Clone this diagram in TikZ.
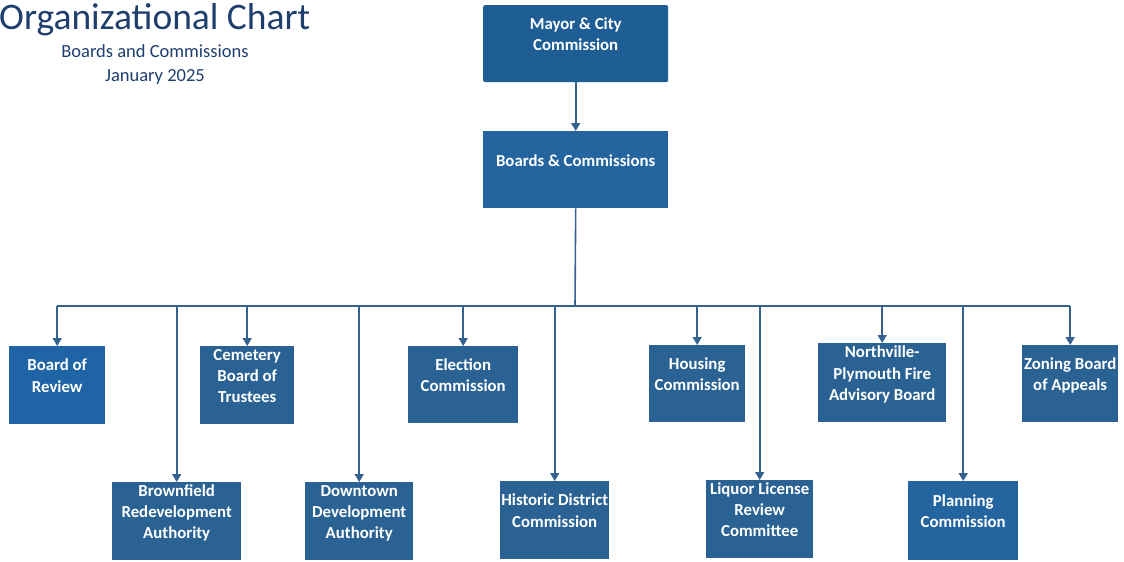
\documentclass[tikz,border=0pt]{standalone}
\usepackage{fontspec}
\setmainfont{Carlito}
\usetikzlibrary{arrows.meta}
\definecolor{boxblue}{HTML}{2A6393}
\definecolor{topblue}{HTML}{1F5E95}
\definecolor{midblue}{HTML}{2465A0}
\definecolor{brightblue}{HTML}{1F65A5}
\definecolor{linkblue}{HTML}{35628F}
\definecolor{titleblue}{HTML}{1E3F6E}
% box label: centred column of lines, lifted a little above the box centre
\newcommand\boxlabel[1]{\raisebox{3.5pt}[0pt][0pt]{\begin{tabular}{@{}c@{}}#1\end{tabular}}}
\tikzset{
  unit/.style={fill=boxblue, draw=none, text=white, align=center,
    font=\fontsize{16.8}{21.3}\selectfont\bfseries, inner sep=0pt, anchor=north west},
  link/.style={draw=linkblue, line width=1.6pt},
  feed/.style={link, -{Triangle[length=8pt, width=9pt]}},
}
\begin{document}
\begin{tikzpicture}[x=1pt, y=-1pt]
\useasboundingbox (0,0) rectangle (1124,562);
\fill[white] (0,0) rectangle (1124,562);

% heading
\node[text=titleblue, font=\fontsize{37.5}{42}\selectfont, anchor=base west, inner sep=0pt] (title) at (-1,29) {Organizational Chart};
\node[text=titleblue, font=\fontsize{18.5}{24}\selectfont, align=center, anchor=north, inner sep=0pt] (sub) at (155,44) {Boards and Commissions\\January 2025};

% top of the structure
\node[unit, fill=topblue, minimum width=185pt, minimum height=77pt, rounded corners=1.5pt] (mayor) at (483,5) {\boxlabel{Mayor \& City\\Commission}};
\node[unit, fill=midblue, minimum width=185pt, minimum height=77pt] (bc) at (483,131) {\boxlabel{Boards \& Commissions}};

% first row
\node[unit, fill=brightblue, minimum width=96pt, minimum height=78pt] (rev) at (9,346) {\boxlabel{Board of\\Review}};
\node[unit, minimum width=94pt, minimum height=78pt] (cem) at (200,346) {\boxlabel{Cemetery\\Board of\\Trustees}};
\node[unit, minimum width=110pt, minimum height=77pt] (ele) at (408,346) {\boxlabel{Election\\Commission}};
\node[unit, minimum width=96pt, minimum height=77pt] (hou) at (649,345) {\boxlabel{Housing\\Commission}};
\node[unit, minimum width=128pt, minimum height=79pt] (fire) at (818,343) {\boxlabel{Northville-\\Plymouth Fire\\Advisory Board}};
\node[unit, minimum width=96pt, minimum height=77pt] (zba) at (1022,345) {\boxlabel{Zoning Board\\of Appeals}};

% second row
\node[unit, minimum width=129pt, minimum height=78pt] (brown) at (112,482) {\boxlabel{Brownfield\\Redevelopment\\Authority}};
\node[unit, minimum width=108pt, minimum height=78pt] (dda) at (305,482) {\boxlabel{Downtown\\Development\\Authority}};
\node[unit, minimum width=109pt, minimum height=78pt] (hist) at (500,481) {\boxlabel{Historic District\\Commission}};
\node[unit, minimum width=107pt, minimum height=78pt] (liq) at (706,480) {\boxlabel{Liquor License\\Review\\Committee}};
\node[unit, fill=midblue, minimum width=110pt, minimum height=79pt] (plan) at (908,481) {\boxlabel{Planning\\Commission}};

% connectors
\coordinate (bus) at (575,306);
\draw[feed] (mayor.south) -- (bc.north);
\draw[link] (bc.south) -- (bus);
\draw[link] (rev.north |- bus) -- (zba.north |- bus);
\foreach \n in {rev, cem, ele, hou, fire, zba, brown, dda, hist, liq, plan}
  \draw[feed] (\n.north |- bus) -- (\n.north);
\end{tikzpicture}
\end{document}
